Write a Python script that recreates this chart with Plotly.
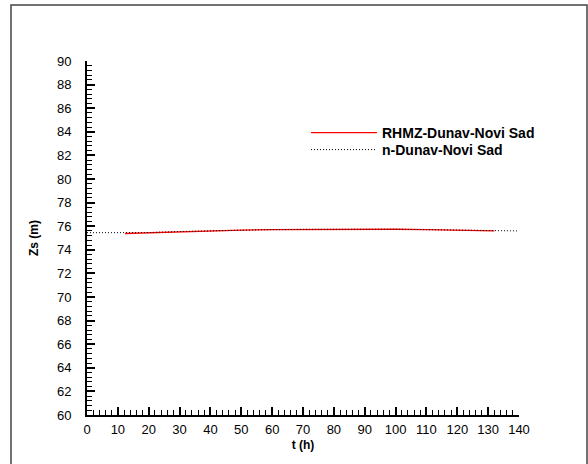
import plotly.graph_objects as go

# Data
t_obs = [12.3, 20, 30, 40, 50, 60, 70, 80, 90, 100, 110, 120, 132]
zs_obs = [75.38, 75.45, 75.54, 75.62, 75.67, 75.71, 75.73, 75.75, 75.75, 75.74, 75.71, 75.67, 75.60]
t_mod = [0, 12.3, 20, 30, 40, 50, 60, 70, 80, 90, 100, 110, 120, 132, 139.5]
zs_mod = [75.45, 75.42, 75.46, 75.55, 75.62, 75.67, 75.71, 75.73, 75.75, 75.75, 75.74, 75.71, 75.67, 75.61, 75.60]
name_obs = "RHMZ-Dunav-Novi Sad"
name_mod = "n-Dunav-Novi Sad"

W, H = 588, 464
L, R, T, B = 87, 69, 61, 49
pw, ph = W - L - R, H - T - B

FONT = "Liberation Sans, Arial"

fig = go.Figure()
fig.add_trace(go.Scatter(x=t_obs, y=zs_obs, mode="lines", name=name_obs, legend="legend",
                         showlegend=True, line=dict(color="#ff0000", width=1.3)))
fig.add_trace(go.Scatter(x=t_mod, y=zs_mod, mode="lines", name=name_mod, legend="legend2",
                         showlegend=True, line=dict(color="#000000", width=1, dash="1px,2px")))

def px2x(px):
    return (px - L) / pw

def py2y(py):
    return (H - B - py) / ph

axis_common = dict(showgrid=False, zeroline=False, showline=True, linecolor="black",
                   linewidth=2, ticks="inside", tickcolor="black", tickwidth=1.5,
                   ticklen=8, automargin=False,
                   tickfont=dict(family=FONT, size=13, color="black"))

fig.update_xaxes(range=[0, 140], dtick=10, tick0=0, ticklabelstandoff=1,
                 minor=dict(ticks="inside", dtick=2, ticklen=5, tickcolor="black", tickwidth=1),
                 title=dict(text="<b>t (h)</b>", font=dict(family=FONT, size=12, color="black"), standoff=5),
                 **axis_common)
fig.update_yaxes(range=[60, 90], dtick=2, tick0=60, ticklabelstandoff=11,
                 minor=dict(ticks="inside", dtick=0.4, ticklen=5, tickcolor="black", tickwidth=1),
                 title=dict(text="<b>Zs (m)</b>", font=dict(family=FONT, size=12, color="black"), standoff=16),
                 **axis_common)

leg_common = dict(xanchor="left", yanchor="top", bgcolor="rgba(0,0,0,0)", itemwidth=66,
                  font=dict(family=FONT, size=14, color="black", weight="bold"))

fig.update_layout(
    width=W, height=H,
    showlegend=True,
    margin=dict(l=L, r=R, t=T, b=B),
    paper_bgcolor="white", plot_bgcolor="white",
    font=dict(family=FONT, color="black"),
    legend=dict(x=px2x(306), y=py2y(117), **leg_common),
    legend2=dict(x=px2x(306), y=py2y(134), **leg_common),
    shapes=[dict(type="rect", xref="paper", yref="paper",
                 x0=px2x(11), x1=px2x(587), y0=py2y(480), y1=py2y(5),
                 line=dict(color="#444444", width=1.5), fillcolor="rgba(0,0,0,0)", layer="below")],
)

fig.write_html("out.html", config={"displayModeBar": False},
               post_script="document.body.style.margin='0';")
